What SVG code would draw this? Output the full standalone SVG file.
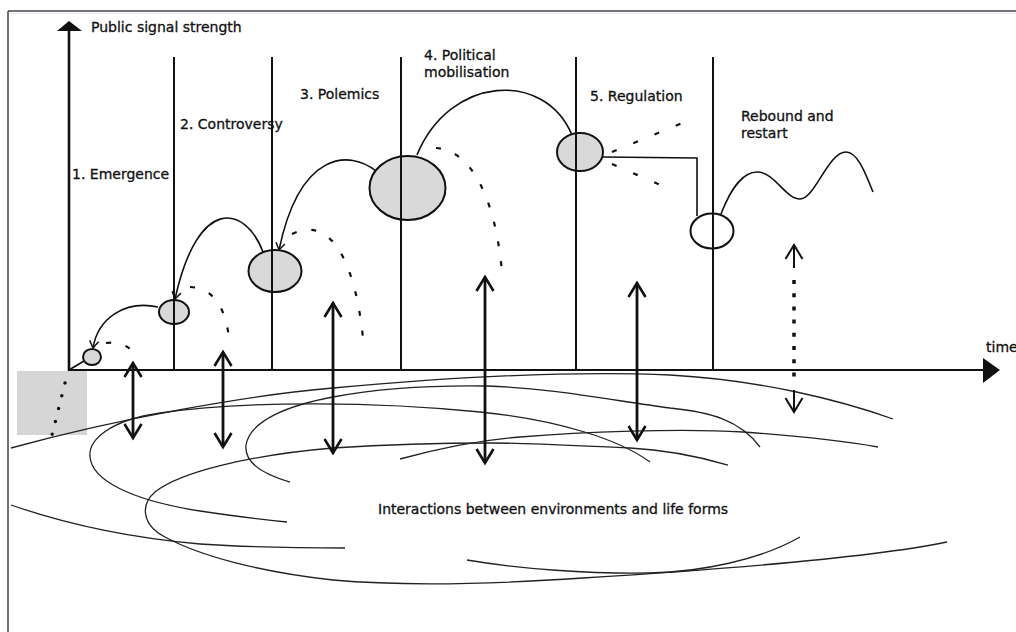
<svg xmlns="http://www.w3.org/2000/svg" width="1016" height="632" viewBox="0 0 1016 632">
<defs>
<style>
.t{font-family:"DejaVu Sans","Liberation Sans",sans-serif;font-size:14px;fill:#111;stroke:#111;stroke-width:0.3}
.sp{fill:none;stroke:#222;stroke-width:1.3}
.sep{stroke:#111;stroke-width:2}
.node{fill:#d9d9d9;stroke:#111;stroke-width:2}
.arc{fill:none;stroke:#111;stroke-width:1.6}
.dash{fill:none;stroke:#111;stroke-width:2.2;stroke-dasharray:5 15}
.dbl{fill:none;stroke:#111;stroke-width:2.8;marker-start:url(#big);marker-end:url(#big)}
</style>
<marker id="big" markerUnits="userSpaceOnUse" viewBox="-16 -11 18 22" refX="0" refY="0" markerWidth="18" markerHeight="22" orient="auto-start-reverse" overflow="visible">
<path d="M-14,-8.5 L0,0 L-14,8.5" fill="none" stroke="#111" stroke-width="2.6"/>
</marker>
<marker id="bigthin" markerUnits="userSpaceOnUse" viewBox="-16 -11 18 22" refX="0" refY="0" markerWidth="18" markerHeight="22" orient="auto-start-reverse" overflow="visible">
<path d="M-14,-8.5 L0,0 L-14,8.5" fill="none" stroke="#111" stroke-width="2"/>
</marker>
<marker id="sm" markerUnits="userSpaceOnUse" viewBox="-10 -7 12 14" refX="0" refY="0" markerWidth="12" markerHeight="14" orient="auto" overflow="visible">
<path d="M-7,-4.5 L0,0 L-7,4.5" fill="none" stroke="#111" stroke-width="1.5"/>
</marker>
</defs>
<rect width="1016" height="632" fill="#fff"/>
<g id="frame">
<line x1="8" y1="11" x2="1016" y2="11" stroke="#444" stroke-width="1.5"/>
<line x1="8" y1="11" x2="8" y2="632" stroke="#444" stroke-width="1.5"/>
<line x1="9" y1="13.5" x2="1016" y2="13.5" stroke="#e6edf5" stroke-width="1.5"/>
</g>
<g id="ground">
<rect x="17" y="371" width="70" height="64" fill="#d6d6d6"/>
<path class="sp" d="M11,448 C120,418 250,395 333,388 C420,380 560,370 670,375 C760,380 840,400 893,419"/>
<path class="sp" d="M650,462 C620,440 560,420 480,412 C380,402 250,400 160,413 C110,420 88,440 90,457 C92,480 130,500 200,511 C240,517 265,520 287,522"/>
<path class="sp" d="M760,447 C740,420 710,412 670,408 C610,400 550,388 487,386 C420,385 370,390 333,397 C290,405 250,420 246,445 C244,462 262,474 290,482"/>
<path class="sp" d="M728,465 C700,457 670,450 630,448 C580,446 530,443 490,443 C430,443 380,445 333,448 C250,455 180,472 155,492 C140,505 142,525 165,537 C200,556 260,572 333,580 C400,586 480,585 583,578 C680,572 860,560 947,542"/>
<path class="sp" d="M400,459 C440,448 480,440 520,437 C580,432 680,428 743,432 C800,436 850,442 878,447"/>
<path class="sp" d="M11,505 C60,522 120,537 200,544 C260,548 310,548 345,548"/>
<path class="sp" d="M467,560 C520,569 590,574 650,573 C700,572 760,560 800,537"/>
<path d="M65,383 L49,447" fill="none" stroke="#111" stroke-width="3.5" stroke-linecap="round" stroke-dasharray="0 13.2"/>
<text class="t" x="378" y="514">Interactions between environments and life forms</text>
</g>
<g id="n1"><ellipse class="node" cx="92" cy="357" rx="9" ry="8"/></g>
<g id="n2"><ellipse class="node" cx="174" cy="312" rx="15" ry="12"/></g>
<g id="n3"><ellipse class="node" cx="275" cy="271" rx="26.5" ry="21"/></g>
<g id="n4"><ellipse class="node" cx="407.5" cy="188" rx="38" ry="32"/></g>
<g id="n5"><ellipse class="node" cx="580" cy="152" rx="23" ry="19"/></g>
<g id="n6"><ellipse class="node" cx="712" cy="231" rx="21.5" ry="17.5" style="fill:#fff"/></g>
<g id="axes">
<line class="sep" x1="174" y1="57" x2="174" y2="370"/>
<line class="sep" x1="272" y1="57" x2="272" y2="370"/>
<line class="sep" x1="401" y1="57" x2="401" y2="370"/>
<line class="sep" x1="576" y1="57" x2="576" y2="370"/>
<line class="sep" x1="713" y1="57" x2="713" y2="370"/>
<line x1="69" y1="30" x2="69" y2="371" stroke="#111" stroke-width="2.6"/>
<polygon points="57,31 69,21 82,31" fill="#111"/>
<line x1="69" y1="370" x2="985" y2="370" stroke="#111" stroke-width="1.8"/>
<polygon points="983,358 1000,370 983,383" fill="#111"/>
</g>
<g id="connectors">
<path class="arc" d="M69,370 L84,361"/>
<path class="arc" d="M158,307 C125,300 98,318 93,348" marker-end="url(#sm)"/>
<path class="arc" d="M263,252 C245,205 198,195 175,299" marker-end="url(#sm)"/>
<path class="arc" d="M376,171 C350,150 300,150 279,250" marker-end="url(#sm)"/>
<path class="arc" d="M417,155 C450,75 545,70 572,135"/>
<path class="arc" d="M603,157 L697,158 L697,216"/>
<path class="arc" d="M721,214 C732,185 745,172 757,172 C775,172 785,199 800,199 C815,199 828,152 846,152 C858,152 866,175 873,192"/>
<path class="dash" d="M106,343 Q128,340 139,360"/>
<path class="dash" d="M190,287 C212,288 225,305 229,338"/>
<path class="dash" d="M292,234 C330,215 355,260 363,338"/>
<path class="dash" d="M436,148 C470,150 495,195 502,272"/>
<path class="dash" d="M612,152 L692,119" style="stroke-dasharray:5 18"/>
<path class="dash" d="M612,164 L672,190" style="stroke-dasharray:5 18"/>
<line class="dbl" x1="133" y1="363" x2="133" y2="438"/>
<line class="dbl" x1="223" y1="352" x2="223" y2="447"/>
<line class="dbl" x1="333" y1="303" x2="333" y2="453"/>
<line class="dbl" x1="485" y1="277" x2="485" y2="463"/>
<line class="dbl" x1="637" y1="283" x2="637" y2="440"/>
<line x1="794" y1="245" x2="794" y2="268" fill="none" stroke="#111" stroke-width="2" marker-start="url(#bigthin)"/>
<line x1="794" y1="390" x2="794" y2="412" fill="none" stroke="#111" stroke-width="2" marker-end="url(#bigthin)"/>
<line x1="794" y1="280" x2="794" y2="380" stroke="#111" stroke-width="3.5" stroke-dasharray="4 9.2"/>
</g>
<g id="labels">
<text class="t" x="91" y="32">Public signal strength</text>
<text class="t" x="72" y="179">1. Emergence</text>
<text class="t" x="180" y="129">2. Controversy</text>
<text class="t" x="300" y="99">3. Polemics</text>
<text class="t" x="424" y="60">4. Political</text>
<text class="t" x="424" y="77">mobilisation</text>
<text class="t" x="590" y="101">5. Regulation</text>
<text class="t" x="741" y="121">Rebound and</text>
<text class="t" x="741" y="138">restart</text>
<text class="t" x="986" y="352">time</text>
</g>
</svg>
